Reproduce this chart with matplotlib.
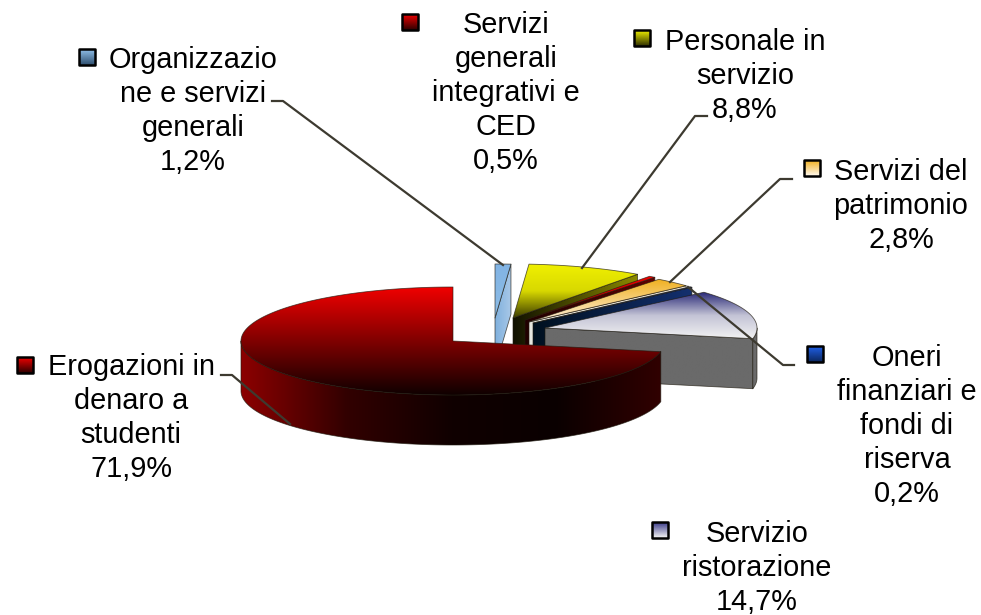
import numpy as np
import matplotlib
matplotlib.use("Agg")
import matplotlib.pyplot as plt
from matplotlib.patches import Polygon, Rectangle
from matplotlib.colors import LinearSegmentedColormap

# data, counter clockwise from the top of the pie
names = ["Erogazioni in\ndenaro a\nstudenti", "Servizio\nristorazione", "Oneri\nfinanziari e\nfondi di\nriserva",
         "Servizi del\npatrimonio", "Servizi\ngenerali\nintegrativi e\nCED", "Personale in\nservizio",
         "Organizzazio\nne e servizi\ngenerali"]
values = [71.9, 14.7, 0.2, 2.8, 0.5, 8.8, 1.2]
percent_labels = ["71,9%", "14,7%", "0,2%", "2,8%", "0,5%", "8,8%", "1,2%"]

# pie geometry in pixels
RX, RY, DEPTH = 212, 54, 50
apex = [(453, 341), (545, 328), (533, 323), (529, 322), (525, 320), (513, 318), (495, 318)]

# top face and wall colours
top_cols = [("#f00000", "#0f0000"), ("#2a2a78", "#c4c4d6", "#f2f2f2"), ("#1c3f9c", "#14306f"),
            ("#f0b020", "#fdf0dc"), ("#f00000", "#a00000"), ("#f0f000", "#d8d800", "#3c3c00"),
            ("#82b4e4", "#8cbce6")]
wall_cols = [["#8c0000", "#320000", "#100000", "#0a0000", "#300000"], ["#6a6a6a", "#6a6a6a"],
             ["#00101f", "#14306f"], ["#e6e6e0", "#f4ecd8"], ["#200000", "#600000"],
             ["#101000", "#8a8a00"], ["#7fb0dd", "#a8c8e8"]]
key_cols = [("#f00000", "#300000"), ("#3a3a88", "#f4f4f4"), ("#2060e8", "#0c2860"), ("#f0b020", "#fff8ee"),
            ("#f00000", "#300000"), ("#f0f000", "#303000"), ("#90c0ea", "#305070")]

# label layout: centre x, first baseline, key x, key y
label_pos = [(131, 375, 17, 357), (757, 542, 652, 522), (907, 366, 807, 346), (901, 180, 804, 160),
             (506, 33, 402, 14), (745, 50, 634, 30), (193, 68, 79, 49)]
LINE_H = 34

leaders = [[(221, 375), (232, 375), (290, 424)],
           [(794, 365), (783, 365), (688, 287)],
           [(792, 179), (780, 179), (670, 282)],
           [(707, 116), (695, 116), (582, 268)],
           [(272, 101), (283, 101), (503, 265)]]

fig = plt.figure(figsize=(9.81, 6.15), dpi=100)
ax = fig.add_axes([0, 0, 1, 1])
ax.axis("off")


def gradient(poly, cols, horizontal=False, z=1):
    pts = np.array(poly)
    x0, x1 = pts[:, 0].min(), pts[:, 0].max()
    y0, y1 = pts[:, 1].min(), pts[:, 1].max()
    cmap = LinearSegmentedColormap.from_list("g", list(cols))
    ramp = np.linspace(0, 1, 256)
    ramp = ramp[None, :] if horizontal else ramp[:, None]
    patch = Polygon(pts, closed=True, fc="none", ec=(0.12, 0.10, 0.06, 0.7), lw=0.6, zorder=z + 0.5, joinstyle="round")
    ax.add_patch(patch)
    im = ax.imshow(ramp, cmap=cmap, extent=(x0, x1, y1, y0), aspect="auto", zorder=z,
                   interpolation="bilinear", vmin=0, vmax=1)
    im.set_clip_path(patch)


def arc(cx, cy, t0, t1, dy=0):
    t = np.radians(np.linspace(t0, t1, max(int(abs(t1 - t0) * 2), 2)))
    return np.column_stack([cx + RX * np.cos(t), cy - RY * np.sin(t) + dy])


shares = np.array(values) / sum(values) * 360
starts = 90 + np.concatenate([[0], np.cumsum(shares)[:-1]])
ends = starts + shares

# back to front: the small slices first, the big red one last
draw_order = [6, 5, 4, 3, 2, 1, 0]
z = 2
for i in draw_order:
    cx, cy = apex[i]
    t0, t1 = starts[i], ends[i]
    e0, e1 = arc(cx, cy, t0, t0 + 0.001)[0], arc(cx, cy, t1, t1 + 0.001)[0]
    # radial walls that face the viewer
    if np.cos(np.radians(t1)) < -1e-6:
        gradient([(cx, cy), e1, e1 + [0, DEPTH], (cx, cy + DEPTH)], wall_cols[i], True, z)
        z += 1
    if np.cos(np.radians(t0)) > 1e-6:
        gradient([(cx, cy), e0, e0 + [0, DEPTH], (cx, cy + DEPTH)], wall_cols[i], True, z)
        z += 1
    # the angle may run past 360, so test both turns of the front half
    for lo, hi in [(180, 360), (540, 720)]:
        a, b = max(t0, lo), min(t1, hi)
        if b > a:
            up = arc(cx, cy, a, b)
            gradient(np.vstack([up, arc(cx, cy, a, b, DEPTH)[::-1]]), wall_cols[i], True, z)
            z += 1
    face = np.vstack([[(cx, cy)], arc(cx, cy, t0, t1)])
    gradient(face, top_cols[i], False, z)
    z += 1

for path in leaders:
    p = np.array(path)
    ax.plot(p[:, 0], p[:, 1], color="#3d3a30", lw=1.6, zorder=100, solid_joinstyle="round")

for i, (name, pct) in enumerate(zip(names, percent_labels)):
    cx, base, kx, ky = label_pos[i]
    for n, line in enumerate(name.split("\n") + [pct]):
        ax.text(cx, base + n * LINE_H, line, ha="center", va="baseline", fontsize=20.8,
                family="Liberation Sans", color="black", zorder=110)
    im = ax.imshow(np.linspace(0, 1, 32)[:, None], extent=(kx, kx + 16, ky + 16, ky), aspect="auto", zorder=110,
                   cmap=LinearSegmentedColormap.from_list("k", list(key_cols[i])), vmin=0, vmax=1)
    ax.add_patch(Rectangle((kx, ky), 16, 16, fc="none", ec="black", lw=1.8, zorder=111, joinstyle="round"))

ax.set_xlim(0, 981)
ax.set_ylim(615, 0)
fig.savefig("out.png", dpi=100, facecolor="white")
